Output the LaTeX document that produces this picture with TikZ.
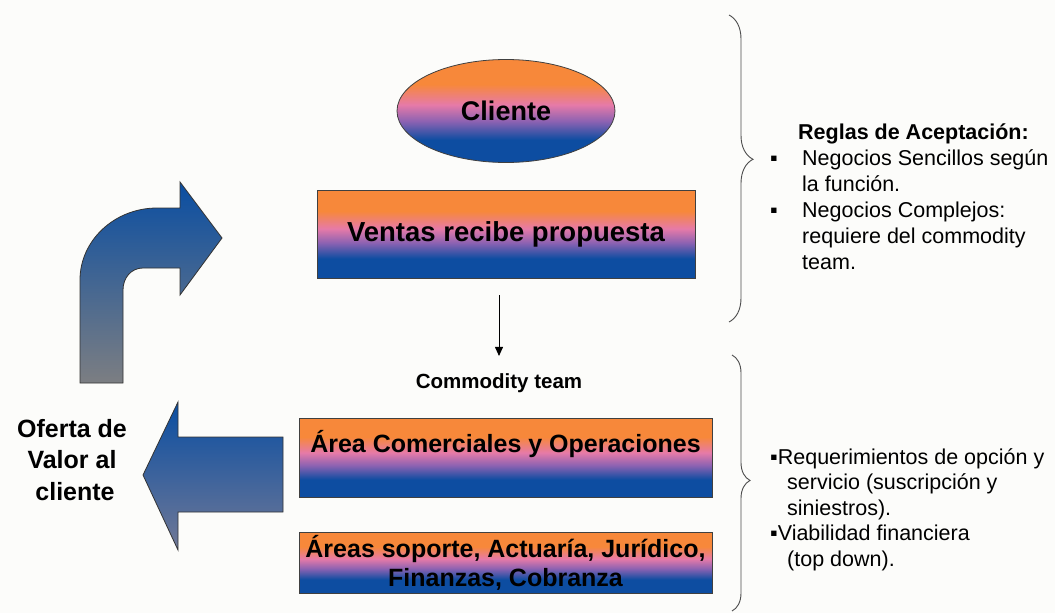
\documentclass[tikz,border=0pt]{standalone}
\usepackage{fontspec}
\setmainfont{Liberation Sans}
\usetikzlibrary{shapes.geometric,decorations.pathreplacing,arrows.meta}

\definecolor{gorange}{RGB}{247,136,58}
\definecolor{gpink}{RGB}{230,122,168}
\definecolor{gpurple}{RGB}{140,98,178}
\definecolor{gblue}{RGB}{13,77,161}
\definecolor{abluetop}{RGB}{10,78,162}
\definecolor{abluemid}{RGB}{84,104,176}
\definecolor{agray}{RGB}{124,126,130}
\definecolor{lblue}{RGB}{60,95,172}
\definecolor{lgray}{RGB}{112,120,150}
\definecolor{bgwhite}{RGB}{252,252,250}

\pgfdeclareverticalshading{sunset}{100bp}{color(0bp)=(gblue); color(36bp)=(gblue); color(45bp)=(gpurple); color(53bp)=(gpink); color(63bp)=(gorange); color(100bp)=(gorange)}

\tikzset{
  grad/.style={draw=black!75, line width=0.8pt, shading=sunset},
  box/.style={grad, rectangle, inner sep=0pt},
  bigtxt/.style={font=\bfseries\fontsize{25}{29}\selectfont, inner sep=0pt},
  rtxt/.style={font=\fontsize{21.5}{26}\selectfont, anchor=base west, inner sep=0pt},
  brc/.style={draw=black!70, line width=0.9pt, decorate}
}

\begin{document}
\begin{tikzpicture}[x=1pt, y=1pt]
\fill [bgwhite] (0,0) rectangle (1055,-613);
\useasboundingbox (0,0) rectangle (1055,-613);
% centre column
\node [grad, ellipse, minimum width=218pt, minimum height=103pt, inner sep=0pt, font=\bfseries\fontsize{27}{30}\selectfont] (cliente) at (506,-111) {Cliente};
\node [box, minimum width=378pt, minimum height=88pt, font=\bfseries\fontsize{27.5}{30}\selectfont] (ventas) at (506,-234) {Ventas recibe propuesta};
\node [font=\bfseries\fontsize{20.5}{24}\selectfont, anchor=base, inner sep=0pt] (comm) at (499,-388) {Commodity team};
\draw [line width=0.9pt, -{Triangle[length=9pt,width=8pt]}, shorten <=17pt, shorten >=17pt] (ventas.south -| comm) -- (comm.north);
\node [box, minimum width=413pt, minimum height=79pt] (area) at (505.5,-457.5) {};
\node [bigtxt, anchor=base] (areatxt) at (505.5,-452) {Área Comerciales y Operaciones};
\node [box, bigtxt, minimum width=413pt, minimum height=61pt, align=center] (soporte) at (505.5,-562.5) {Áreas soporte, Actuaría, Jurídico,\\Finanzas, Cobranza};
% arrows on the left
\shade [draw=black!80, line width=0.8pt, top color=abluetop, middle color=abluemid, bottom color=agray]
  (80,-383) -- (80,-280) .. controls (80,-240) and (115,-208) .. (157,-208) -- (180,-208) -- (180,-182) -- (222,-238) -- (180,-295) -- (180,-268) -- (143,-268) .. controls (131,-268) and (123,-278) .. (123,-290) -- (123,-383) -- cycle;
\shade [draw=black!80, line width=0.8pt, top color=abluetop, middle color=lblue, bottom color=lgray]
  (143,-475) -- (178,-402) -- (178,-437) -- (283,-437) -- (283,-512) -- (178,-512) -- (178,-550) -- cycle;
\node [bigtxt, align=center, anchor=north, font=\bfseries\fontsize{25}{31.5}\selectfont] (oferta) at (72,-419) {Oferta de\\Valor al\\\hspace*{6pt}cliente};
% braces
\draw [brc, decoration={brace, amplitude=24pt, aspect=0.47}] (729,-15) -- (729,-322);
\draw [brc, decoration={brace, amplitude=18pt, aspect=0.49}] (732,-355) -- (732,-611);
% rules text
\node [rtxt] (reglas) at (798,-139) {\textbf{Reglas de Aceptación:}};
\node [rtxt] (b1) at (770,-165) {▪};
\node [rtxt] (r1) at (802,-165) {Negocios Sencillos según};
\node [rtxt] (r2) at (802,-191) {la función.};
\node [rtxt] (b2) at (770,-217) {▪};
\node [rtxt] (r3) at (802,-217) {Negocios Complejos:};
\node [rtxt] (r4) at (802,-243) {requiere del commodity};
\node [rtxt] (r5) at (802,-269) {team.};
% requirements text
\node [rtxt] (q1) at (770,-464) {▪Requerimientos de opción y};
\node [rtxt] (q2) at (787,-489.5) {servicio (suscripción y};
\node [rtxt] (q3) at (787,-515) {siniestros).};
\node [rtxt] (q4) at (770,-540.5) {▪Viabilidad financiera};
\node [rtxt] (q5) at (787,-566) {(top down).};
\end{tikzpicture}
\end{document}
